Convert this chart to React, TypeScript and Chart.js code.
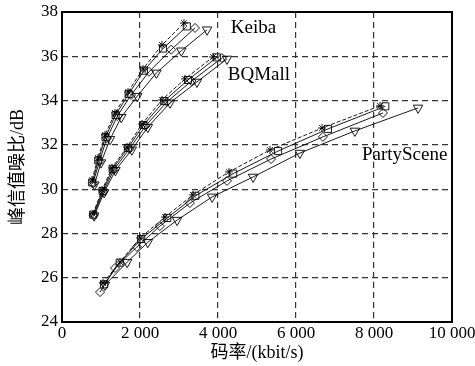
import React, { useEffect, useRef } from "react";
import { Chart, registerables } from "chart.js";

Chart.register(...registerables);

// ---- Data (bitrate kbit/s, PSNR dB) ----
const keibaStarX = [769, 923, 1103, 1359, 1692, 2077, 2564, 3128];
const keibaStarY = [30.41, 31.41, 32.45, 33.44, 34.39, 35.43, 36.51, 37.5];
const keibaSquareX = [775, 930, 1115, 1375, 1710, 2100, 2590, 3200];
const keibaSquareY = [30.3, 31.3, 32.35, 33.35, 34.3, 35.35, 36.35, 37.35];
const keibaDiamondX = [790, 960, 1150, 1420, 1770, 2230, 2800, 3410];
const keibaDiamondY = [30.25, 31.25, 32.3, 33.3, 34.25, 35.3, 36.3, 37.28];
const keibaTriangleX = [830, 1000, 1230, 1520, 1930, 2420, 3060, 3720];
const keibaTriangleY = [30.2, 31.2, 32.25, 33.25, 34.2, 35.25, 36.25, 37.2];

const bqStarX = [795, 1026, 1282, 1667, 2051, 2564, 3154, 3872];
const bqStarY = [28.88, 29.96, 30.96, 31.9, 32.94, 34.03, 34.98, 35.97];
const bqSquareX = [800, 1040, 1300, 1690, 2090, 2620, 3230, 3970];
const bqSquareY = [28.85, 29.92, 30.92, 31.86, 32.9, 33.98, 34.93, 35.95];
const bqDiamondX = [810, 1060, 1330, 1730, 2140, 2690, 3320, 4100];
const bqDiamondY = [28.82, 29.88, 30.88, 31.82, 32.85, 33.94, 34.88, 35.92];
const bqTriangleX = [825, 1080, 1370, 1790, 2200, 2770, 3460, 4230];
const bqTriangleY = [28.8, 29.85, 30.85, 31.78, 32.8, 33.9, 34.84, 35.88];

const psStarX = [1051, 1487, 2000, 2641, 3359, 4282, 5333, 6667, 8154];
const psStarY = [25.76, 26.71, 27.79, 28.74, 29.74, 30.78, 31.77, 32.76, 33.76];
const psSquareX = [1080, 1480, 2030, 2700, 3420, 4390, 5540, 6820, 8290];
const psSquareY = [25.7, 26.68, 27.75, 28.7, 29.7, 30.7, 31.72, 32.72, 33.74];
const psDiamondX = [975, 1360, 1920, 2510, 3280, 4230, 5360, 6690, 8230];
const psDiamondY = [25.35, 26.44, 27.39, 28.33, 29.37, 30.37, 31.36, 32.36, 33.44];
const psTriangleX = [1100, 1670, 2200, 2950, 3850, 4900, 6100, 7510, 9130];
const psTriangleY = [25.67, 26.7, 27.6, 28.6, 29.65, 30.55, 31.63, 32.63, 33.67];

const xTicks = [0, 2000, 4000, 6000, 8000, 10000];
const yTicks = [24, 26, 28, 30, 32, 34, 36, 38];

const sequenceLabels = ["Keiba", "BQMall", "PartyScene"];
const labelAnchorsX = [4330, 4250, 7690];
const labelAnchorsY = [37.28, 35.16, 31.54];

const SERIF = "'Liberation Serif', 'Times New Roman', 'Noto Sans CJK SC', serif";

type Marker = "star" | "square" | "diamond" | "triangle";

function pts(xs: number[], ys: number[]) {
  return xs.map((x, i) => ({ x, y: ys[i] }));
}

function makeDataset(xs: number[], ys: number[], marker: Marker) {
  const base: any = {
    data: pts(xs, ys),
    borderColor: "#000",
    borderWidth: 0.9,
    pointBorderColor: "#000",
    pointBackgroundColor: "rgba(0,0,0,0)",
    pointBorderWidth: 0.9,
    showLine: true,
    tension: 0,
    fill: false,
  };
  if (marker === "star") {
    base.pointStyle = "star";
    base.pointRadius = 4;
    base.borderDash = [4, 2];
  } else if (marker === "square") {
    base.pointStyle = "rect";
    base.pointRadius = 5;
  } else if (marker === "diamond") {
    base.pointStyle = "rectRot";
    base.pointRadius = 4.5;
  } else {
    base.pointStyle = "triangle";
    base.pointRotation = 180;
    base.pointRadius = 5.5;
  }
  return base;
}

const fmt = (v: number) => String(v).replace(/\B(?=(\d{3})+(?!\d))/g, " ");

export default function App() {
  const ref = useRef<HTMLCanvasElement | null>(null);

  useEffect(() => {
    if (!ref.current) return;
    const labelPlugin = {
      id: "seqLabels",
      afterDatasetsDraw(chart: any) {
        const { ctx, scales, chartArea } = chart;
        ctx.save();
        ctx.font = `19px ${SERIF}`;
        ctx.fillStyle = "#000";
        ctx.textAlign = "left";
        ctx.textBaseline = "middle";
        sequenceLabels.forEach((t, i) => {
          ctx.fillText(
            t,
            scales.x.getPixelForValue(labelAnchorsX[i]),
            scales.y.getPixelForValue(labelAnchorsY[i])
          );
        });
        ctx.lineWidth = 2;
        ctx.strokeStyle = "#000";
        ctx.strokeRect(
          chartArea.left,
          chartArea.top,
          chartArea.right - chartArea.left,
          chartArea.bottom - chartArea.top
        );
        ctx.restore();
      },
    };

    const chart = new Chart(ref.current, {
      type: "scatter",
      data: {
        datasets: [
          makeDataset(keibaStarX, keibaStarY, "star"),
          makeDataset(keibaSquareX, keibaSquareY, "square"),
          makeDataset(keibaDiamondX, keibaDiamondY, "diamond"),
          makeDataset(keibaTriangleX, keibaTriangleY, "triangle"),
          makeDataset(bqStarX, bqStarY, "star"),
          makeDataset(bqSquareX, bqSquareY, "square"),
          makeDataset(bqDiamondX, bqDiamondY, "diamond"),
          makeDataset(bqTriangleX, bqTriangleY, "triangle"),
          makeDataset(psStarX, psStarY, "star"),
          makeDataset(psSquareX, psSquareY, "square"),
          makeDataset(psDiamondX, psDiamondY, "diamond"),
          makeDataset(psTriangleX, psTriangleY, "triangle"),
        ],
      },
      options: {
        animation: false,
        responsive: false,
        maintainAspectRatio: false,
        layout: { padding: { top: 12, right: 23, left: 0, bottom: 0 } },
        plugins: {
          legend: { display: false },
          tooltip: { enabled: false },
        },
        scales: {
          x: {
            type: "linear",
            min: 0,
            max: 10000,
            afterBuildTicks: (s: any) => {
              s.ticks = xTicks.map((v) => ({ value: v }));
            },
            afterFit: (s: any) => {
              s.height = 44;
              s.paddingLeft = 0;
              s.paddingRight = 0;
            },
            ticks: {
              autoSkip: false,
              maxRotation: 0,
              padding: 1,
              color: "#000",
              font: { family: SERIF, size: 17 },
              callback: (v: any) => fmt(Number(v)),
            },
            grid: {
              drawTicks: false,
              tickLength: 0,
              color: (c: any) =>
                c.tick && (c.tick.value === 0 || c.tick.value === 10000) ? "rgba(0,0,0,0)" : "#333",
              lineWidth: 1.2,
            },
            border: { display: false, dash: [6, 4] },
            title: {
              display: true,
              text: "码率/(kbit/s)",
              color: "#000",
              font: { family: SERIF, size: 18 },
              padding: { top: 0, bottom: 2 },
            },
          },
          y: {
            type: "linear",
            min: 24,
            max: 38,
            afterBuildTicks: (s: any) => {
              s.ticks = yTicks.map((v) => ({ value: v }));
            },
            afterFit: (s: any) => {
              s.width = 62;
              s.paddingTop = 0;
              s.paddingBottom = 0;
            },
            ticks: {
              autoSkip: false,
              padding: 4,
              color: "#000",
              font: { family: SERIF, size: 17 },
            },
            grid: {
              drawTicks: false,
              tickLength: 0,
              color: (c: any) =>
                c.tick && (c.tick.value === 24 || c.tick.value === 38) ? "rgba(0,0,0,0)" : "#333",
              lineWidth: 1.2,
            },
            border: { display: false, dash: [6, 4] },
            title: {
              display: true,
              text: "峰信值噪比/dB",
              color: "#000",
              font: { family: SERIF, size: 18 },
              padding: { top: 7, bottom: 0 },
            },
          },
        },
      } as any,
      plugins: [labelPlugin],
    });
    return () => chart.destroy();
  }, []);

  return (
    <div style={{ position: "fixed", left: 0, top: 0, width: 475, height: 366, background: "#fff" }}>
      <canvas ref={ref} width={475} height={366} style={{ width: 475, height: 366 }} />
    </div>
  );
}
